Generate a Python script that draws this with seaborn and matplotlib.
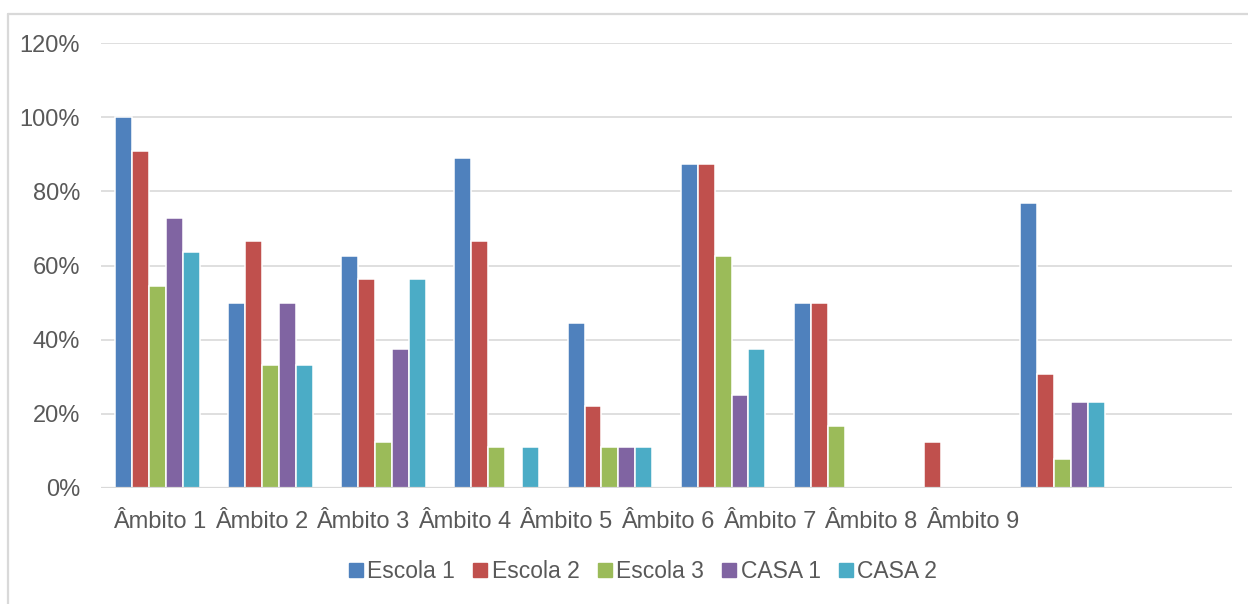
import numpy as np
import pandas as pd
import seaborn as sns
import matplotlib.pyplot as plt
from matplotlib.lines import Line2D

# Share of each group per Âmbito
categories = ["Âmbito 1", "Âmbito 2", "Âmbito 3", "Âmbito 4", "Âmbito 5",
              "Âmbito 6", "Âmbito 7", "Âmbito 8", "Âmbito 9"]
series = ["Escola 1", "Escola 2", "Escola 3", "CASA 1", "CASA 2"]
escola_1 = [1.000, 0.500, 0.625, 0.889, 0.444, 0.875, 0.500, 0.000, 0.769]
escola_2 = [0.909, 0.667, 0.5625, 0.667, 0.222, 0.875, 0.500, 0.125, 0.308]
escola_3 = [0.545, 0.333, 0.125, 0.111, 0.111, 0.625, 0.167, 0.000, 0.077]
casa_1 = [0.727, 0.500, 0.375, 0.000, 0.111, 0.250, 0.000, 0.000, 0.231]
casa_2 = [0.636, 0.333, 0.5625, 0.111, 0.111, 0.375, 0.000, 0.000, 0.231]
y_ticks = [0.0, 0.2, 0.4, 0.6, 0.8, 1.0, 1.2]
y_tick_labels = ["0%", "20%", "40%", "60%", "80%", "100%", "120%"]

colors = ["#4F81BD", "#C0504D", "#9BBB59", "#8064A2", "#4BACC6"]
grid_color = "#D9D9D9"
text_color = "#595959"

values = [escola_1, escola_2, escola_3, casa_1, casa_2]
df = pd.DataFrame({
    "categoria": np.tile(categories, len(series)),
    "serie": np.repeat(series, len(categories)),
    "valor": np.concatenate(values),
})

sns.set_theme(style="white")
plt.rcParams["font.family"] = ["Liberation Sans", "DejaVu Sans"]

W, H = 1248, 604
fig = plt.figure(figsize=(W / 100, H / 100), dpi=100)
ax_left, ax_right, ax_top, ax_bottom = 101, 1232, 43, 488
ax = fig.add_axes([ax_left / W, 1 - ax_bottom / H,
                   (ax_right - ax_left) / W, (ax_bottom - ax_top) / H])

sns.barplot(data=df, x="categoria", y="valor", hue="serie", order=categories,
            hue_order=series, palette=colors, saturation=1, width=0.75, ax=ax,
            edgecolor="white", linewidth=1.1, errorbar=None, legend=False)

# one empty slot after the last Âmbito
ax.set_xlim(-0.5, len(categories) + 0.5)
ax.set_ylim(0, 1.2)
ax.set_yticks(y_ticks)
ax.set_yticklabels(y_tick_labels)
ax.set_xticks([])
ax.set_xlabel("")
ax.set_ylabel("")
ax.tick_params(axis="y", length=0, pad=15, labelsize=17, labelcolor=text_color)

ax.set_axisbelow(True)
ax.yaxis.grid(True, color=grid_color, linewidth=1.2)
for side in ["left", "right", "top", "bottom"]:
    ax.spines[side].set_visible(False)
ax.axhline(0, color=grid_color, linewidth=1.6, zorder=3)

# category labels run together from the left of the plot
ax_w = ax_right - ax_left
ax_h = ax_bottom - ax_top
for i, name in enumerate(categories):
    x_px = 113 + 101.6 * i
    ax.text((x_px - ax_left) / ax_w, (ax_bottom - 528) / ax_h, name,
            transform=ax.transAxes, ha="left", va="baseline",
            fontsize=17, color=text_color)

# legend
handles = [Line2D([0], [0], marker="s", linestyle="none", markersize=9.5,
                  markerfacecolor=c, markeredgecolor=c) for c in colors]
leg = fig.legend(handles, series, loc="center", ncol=len(series),
                 bbox_to_anchor=(643 / W, 1 - 572 / H), frameon=False,
                 handlelength=0.6, handletextpad=0.2, columnspacing=0.8,
                 prop={"size": 16.5})
for t in leg.get_texts():
    t.set_color(text_color)

# chart frame
fig.add_artist(Line2D([8 / W, 8 / W], [0, 1 - 14 / H], transform=fig.transFigure,
                      color=grid_color, linewidth=1.6))
fig.add_artist(Line2D([8 / W, 1], [1 - 14 / H, 1 - 14 / H], transform=fig.transFigure,
                      color=grid_color, linewidth=1.6))

fig.savefig("out.png", dpi=100, facecolor="white")
